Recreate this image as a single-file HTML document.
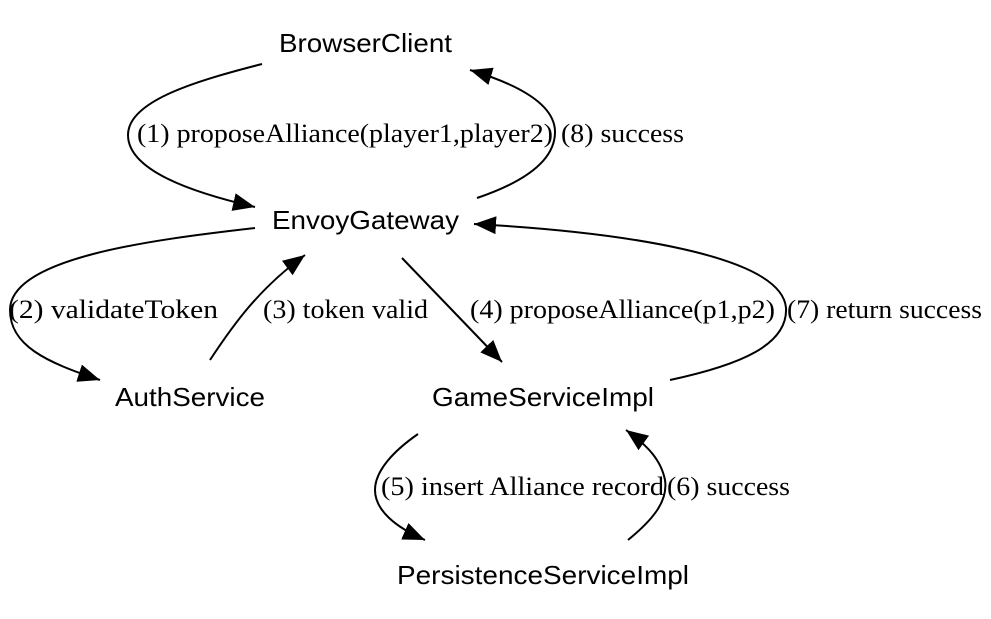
<!DOCTYPE html>
<html><head><style>
html,body{margin:0;padding:0;background:#fff;}
svg{display:block;}
.n{font-family:"Liberation Sans",sans-serif;font-size:26px;fill:#000;}
.e{font-family:"Liberation Serif",serif;font-size:26px;fill:#000;}
path{fill:none;stroke:#000;stroke-width:2;}
</style></head><body>
<svg width="991" height="619" viewBox="0 0 991 619" xmlns="http://www.w3.org/2000/svg">
<defs>
<marker id="a" markerUnits="userSpaceOnUse" markerWidth="24" markerHeight="18" refX="22" refY="9" orient="auto">
<polygon points="0,0 22,9 0,18" fill="#000"/>
</marker>
</defs>
<text class="n" x="279" y="52" textLength="173" lengthAdjust="spacingAndGlyphs">BrowserClient</text>
<text class="n" x="272" y="229" textLength="187" lengthAdjust="spacingAndGlyphs">EnvoyGateway</text>
<text class="n" x="115" y="406" textLength="150" lengthAdjust="spacingAndGlyphs">AuthService</text>
<text class="n" x="432" y="406" textLength="222" lengthAdjust="spacingAndGlyphs">GameServiceImpl</text>
<text class="n" x="397" y="584" textLength="292" lengthAdjust="spacingAndGlyphs">PersistenceServiceImpl</text>

<path d="M262,64 C200,80 128,100 128,135 C128,170 190,192 255,207" marker-end="url(#a)"/>
<text class="e" x="137" y="142" textLength="416" lengthAdjust="spacingAndGlyphs">(1) proposeAlliance(player1,player2)</text>
<path d="M477,198 C530,180 555,158 555,132 C555,105 520,85 470,70" marker-end="url(#a)"/>
<text class="e" x="561" y="142" textLength="123" lengthAdjust="spacingAndGlyphs">(8) success</text>

<path d="M255,228 C150,240 10,258 10,310 C10,345 45,362 100,380" marker-end="url(#a)"/>
<text class="e" x="9" y="318" textLength="209" lengthAdjust="spacingAndGlyphs">(2) validateToken</text>
<path d="M210,360 C235,322 260,288 305,255" marker-end="url(#a)"/>
<text class="e" x="263" y="318" textLength="165" lengthAdjust="spacingAndGlyphs">(3) token valid</text>
<path d="M402,258 L502,362" marker-end="url(#a)"/>
<text class="e" x="470" y="318" textLength="305" lengthAdjust="spacingAndGlyphs">(4) proposeAlliance(p1,p2)</text>
<path d="M670,380 C740,365 788,345 786,308 C782,255 620,232 474,224" marker-end="url(#a)"/>
<text class="e" x="787" y="318" textLength="195" lengthAdjust="spacingAndGlyphs">(7) return success</text>

<path d="M418,434 C395,450 375,470 375,490 C375,510 395,527 425,540" marker-end="url(#a)"/>
<text class="e" x="381" y="495" textLength="283" lengthAdjust="spacingAndGlyphs">(5) insert Alliance record</text>
<path d="M628,540 C655,518 668,500 665,480 C661,460 648,446 626,430" marker-end="url(#a)"/>
<text class="e" x="667" y="495" textLength="123" lengthAdjust="spacingAndGlyphs">(6) success</text>
</svg>
</body></html>
